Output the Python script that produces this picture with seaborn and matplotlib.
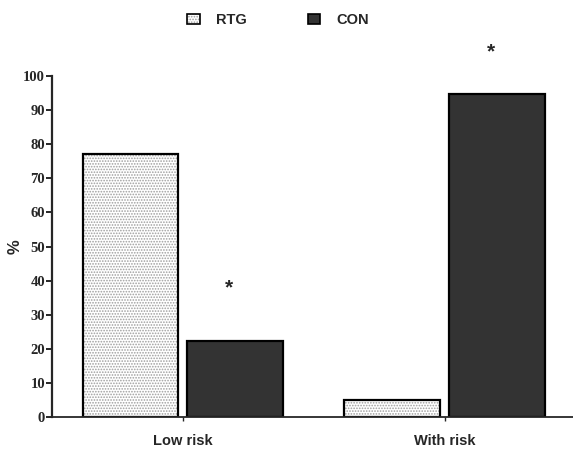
import matplotlib
matplotlib.use("Agg")
import matplotlib.pyplot as plt
import seaborn as sns
import pandas as pd
from matplotlib.patches import Patch

categories = ["Low risk", "With risk"]
groups = ["RTG", "CON"]
rtg_values = [77.1, 5.0]
con_values = [22.3, 94.7]
star_labels = ["*", "*"]
star_y = [38.0, 107.0]
yticks = list(range(0, 101, 10))

df = pd.DataFrame({
    "risk": categories * 2,
    "group": ["RTG"] * len(categories) + ["CON"] * len(categories),
    "value": rtg_values + con_values,
})

sns.set_theme(style="ticks")
plt.rcParams["hatch.linewidth"] = 0.8

fig = plt.figure(figsize=(5.73, 4.49), dpi=100)
ax = fig.add_axes([52 / 573, 32 / 449, 1 - 52 / 573, 341 / 449])

palette = {"RTG": "white", "CON": "#333333"}
sns.barplot(data=df, x="risk", y="value", hue="group", hue_order=groups,
            order=categories, palette=palette, width=0.8, gap=0.085,
            edgecolor="black", linewidth=1.6, ax=ax, legend=False,
            errorbar=None)

# hatch the RTG bars with light dots
for cont, name in zip(ax.containers, groups):
    for p in cont.patches:
        if name == "RTG":
            p.set_hatch("......")
            p._hatch_color = (0.62, 0.62, 0.62, 1.0)

ax.set_xlim(-0.5, 1.49)
ax.set_ylim(0, 100)
ax.set_yticks(yticks)
ax.set_yticklabels([str(t) for t in yticks], fontfamily="Liberation Serif",
                   fontweight="bold", fontsize=10.5)
ax.set_xticks(range(len(categories)))
ax.set_xticklabels(categories, fontfamily="Liberation Sans", fontweight="bold",
                   fontsize=10.5)
ax.tick_params(axis="y", length=4, width=1.4, pad=1)
ax.tick_params(axis="x", length=3, width=1.0, pad=9)
ax.set_xlabel("")
ax.set_ylabel("%", fontfamily="Liberation Sans", fontweight="bold", fontsize=12)
ax.yaxis.set_label_coords(-29 / 521, 0.5)
for s in ["top", "right"]:
    ax.spines[s].set_visible(False)
ax.spines["left"].set_linewidth(1.6)
ax.spines["bottom"].set_linewidth(1.3)
ax.spines["left"].set_bounds(0, 100)

# significance stars above CON bars
con_cont = ax.containers[1]
for p, lab, yv in zip(con_cont.patches, star_labels, star_y):
    ax.text(p.get_x() + p.get_width() / 2 - 0.025, yv, lab, ha="center", va="center",
            fontsize=15, fontweight="bold", fontfamily="Liberation Sans",
            clip_on=False)

h_rtg = Patch(facecolor="white", edgecolor="black", hatch="......", linewidth=1.2)
h_con = Patch(facecolor="#333333", edgecolor="black", linewidth=1.2)
leg = fig.legend([h_rtg, h_con], groups, loc="upper center",
                 bbox_to_anchor=(0.485, 1.0), ncol=2, frameon=False,
                 handlelength=0.85, handleheight=0.75, handletextpad=1.1,
                 columnspacing=4.2,
                 prop={"family": "Liberation Sans", "weight": "bold", "size": 10.5})
leg.legend_handles[0]._hatch_color = (0.62, 0.62, 0.62, 1.0)

fig.savefig("out.png", dpi=100)
